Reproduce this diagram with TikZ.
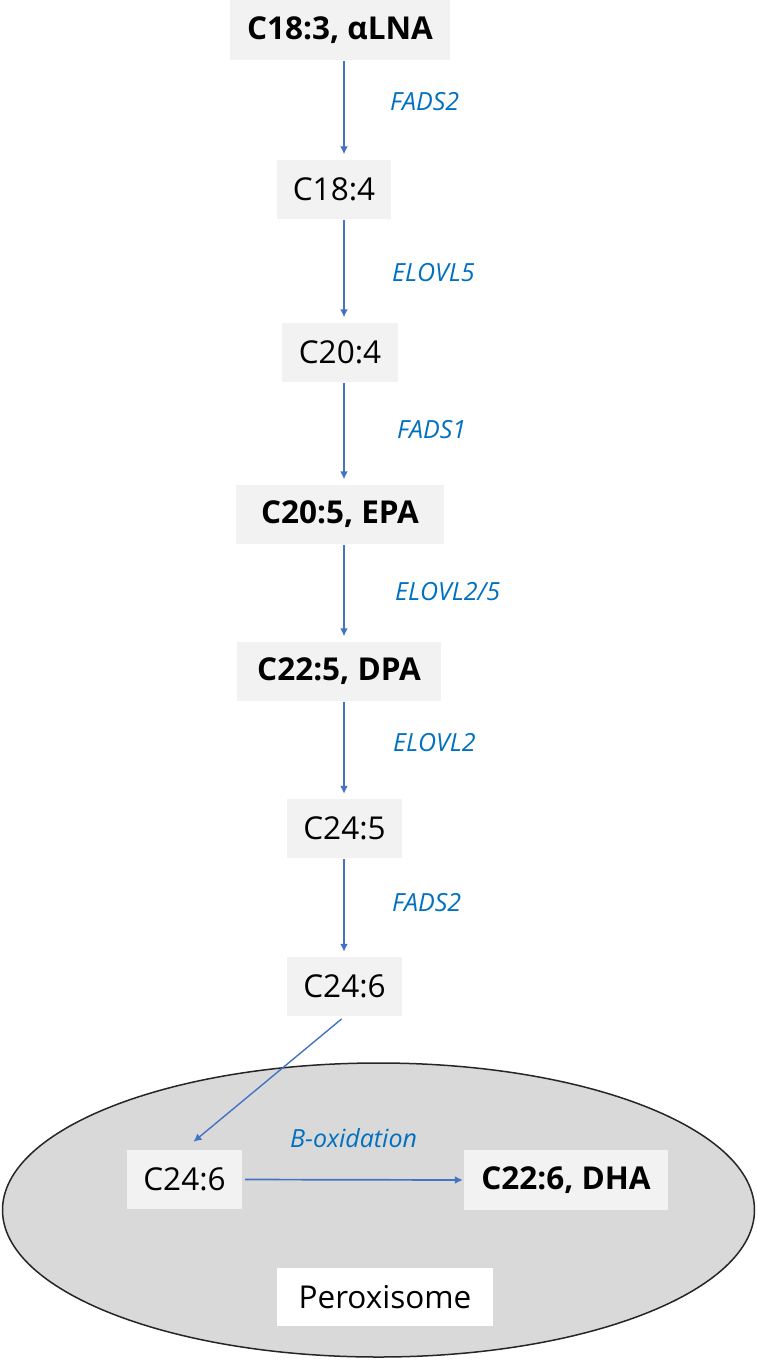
\documentclass[tikz,border=0pt]{standalone}
\usepackage{fontspec}
\setmainfont{Open Sans}
\usetikzlibrary{arrows.meta,calc}
\definecolor{boxgray}{HTML}{F2F2F2}
\definecolor{arrowblue}{HTML}{4472C4}
\definecolor{labelblue}{HTML}{0070C0}
\definecolor{peroxfill}{HTML}{D9D9D9}
\newcommand{\boxfont}{\fontsize{31.5}{36}\selectfont}
\newcommand{\enzfont}{\fontsize{25}{28}\selectfont\itshape}
\begin{document}
\begin{tikzpicture}[x=1pt,y=-1pt,
  molbox/.style={fill=boxgray, minimum height=59pt, inner sep=0pt, font=\boxfont, text=black},
  enz/.style={font=\enzfont, text=labelblue, anchor=west, inner sep=0pt},
  arr/.style={draw=arrowblue, line width=1.9pt, -{Latex[length=8pt,width=8pt]}, shorten >=5pt, shorten <=1pt}]
\useasboundingbox (0,0) rectangle (757,1361);
% peroxisome
\draw[fill=peroxfill, draw=black!85, line width=1.5pt] (378.5,1210) ellipse [x radius=376pt, y radius=147pt];
% nodes
\node[molbox, minimum width=220pt, minimum height=60pt] (n1) at (340,30) {\textbf{C18:3, αLNA}};
\node[molbox, minimum width=114pt] (n2) at (334,189) {C18:4};
\node[molbox, minimum width=116pt] (n3) at (340,352) {C20:4};
\node[molbox, minimum width=208pt] (n4) at (340,514) {\textbf{C20:5, EPA}};
\node[molbox, minimum width=204pt] (n5) at (339,671) {\textbf{C22:5, DPA}};
\node[molbox, minimum width=115pt] (n6) at (344.5,828.5) {C24:5};
\node[molbox, minimum width=115pt] (n7) at (344.5,986.5) {C24:6};
\node[molbox, minimum width=115pt] (n8) at (184.5,1179.5) {C24:6};
\node[molbox, minimum width=204pt, minimum height=60pt] (n9) at (566,1180) {\textbf{C22:6, DHA}};
\node[molbox, fill=white, minimum width=216pt, minimum height=58pt] (n10) at (385,1297) {Peroxisome};
% enzyme labels
\node[enz] (e1) at (390,102) {FADS2};
\node[enz] (e2) at (392,273) {ELOVL5};
\node[enz] (e3) at (397,430) {FADS1};
\node[enz] (e4) at (395,592) {ELOVL2/5};
\node[enz] (e5) at (393,743) {ELOVL2};
\node[enz] (e6) at (392,903) {FADS2};
\node[enz] (e7) at (290,1138) {B-oxidation};
% connectors
\coordinate (ax) at (344,0);
\draw[arr] (n1.south -| ax) -- (n2.north -| ax);
\draw[arr] (n2.south -| ax) -- (n3.north -| ax);
\draw[arr] (n3.south -| ax) -- (n4.north -| ax);
\draw[arr] (n4.south -| ax) -- (n5.north -| ax);
\draw[arr] (n5.south -| ax) -- (n6.north -| ax);
\draw[arr] (n6.south -| ax) -- (n7.north -| ax);
\draw[arr, line width=1.4pt, shorten >=0pt] ($(n7.south)+(-2,2)$) -- ($(n8.north)+(9,-8)$);
\draw[arr, line width=1.7pt, shorten >=1pt, shorten <=3pt] (n8.east) -- (n9.west);
\end{tikzpicture}
\end{document}
